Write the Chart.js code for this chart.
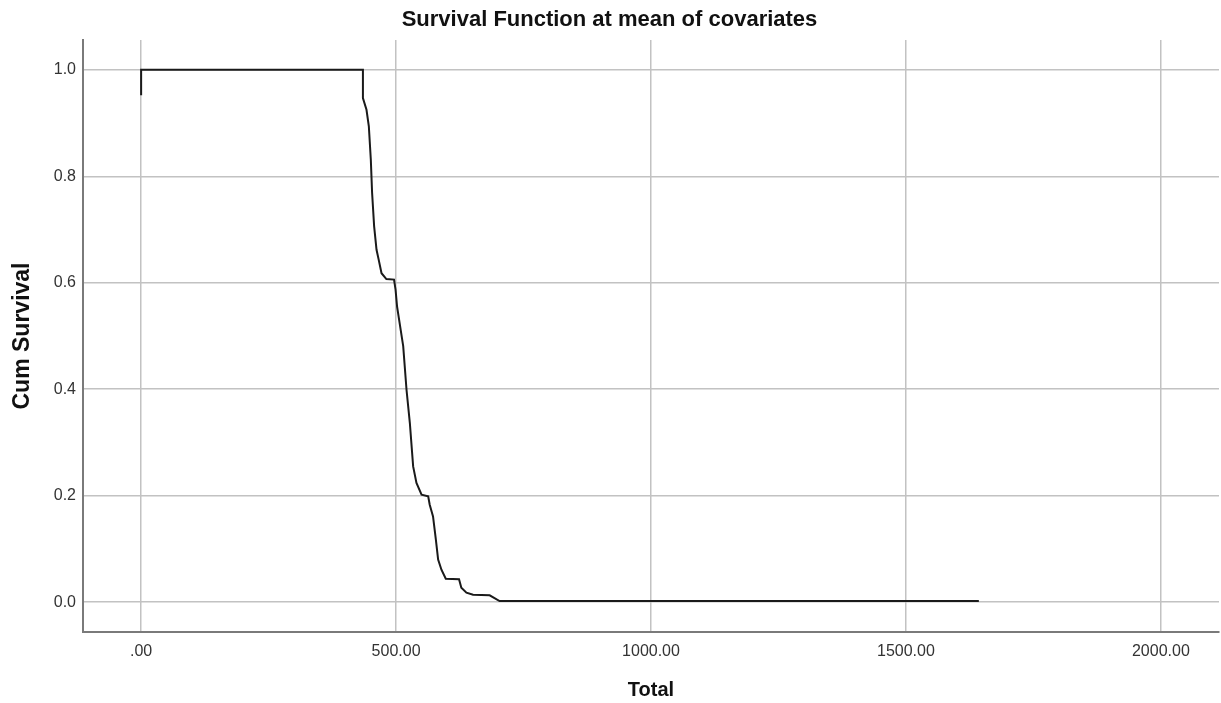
<!DOCTYPE html>
<html>
<head>
<meta charset="utf-8">
<script src="https://cdn.jsdelivr.net/npm/chart.js@4"></script>
<style>
  html, body { margin: 0; padding: 0; background: #ffffff; }
  #wrap { width: 1221px; height: 703px; }
</style>
</head>
<body>
<div id="wrap"><canvas id="c" width="1221" height="703"></canvas></div>
<script>
// ---- data ----
const chartTitle = 'Survival Function at mean of covariates';
const xAxisTitle = 'Total';
const yAxisTitle = 'Cum Survival';

const timeValues = [0, 0, 435, 435, 442, 446.6, 450.5, 453, 457, 461.7, 466, 471.5, 481, 496, 499, 502,
  514, 520.5, 527, 533.5, 540, 550, 563, 566, 572.5, 578, 582.5, 589, 597.5, 623.5, 628, 638, 651,
  683.6, 703, 1643];
const survivalValues = [0.952, 1.0, 1.0, 0.947, 0.925, 0.894, 0.831, 0.769, 0.706, 0.662, 0.643, 0.618, 0.607, 0.606, 0.587, 0.555,
  0.481, 0.399, 0.337, 0.255, 0.224, 0.202, 0.199, 0.183, 0.161, 0.118, 0.080, 0.061, 0.044, 0.043, 0.027, 0.018, 0.014,
  0.013, 0.002, 0.002];

const xTickValues = [0, 500, 1000, 1500, 2000];
const xTickLabels = ['.00', '500.00', '1000.00', '1500.00', '2000.00'];
const yTickValues = [0, 0.2, 0.4, 0.6, 0.8, 1.0];
const yTickLabels = ['0.0', '0.2', '0.4', '0.6', '0.8', '1.0'];

// ---- chart ----
const FONT = "'Liberation Sans', Arial, sans-serif";
const points = timeValues.map((t, i) => ({ x: t, y: survivalValues[i] }));

new Chart(document.getElementById('c'), {
  type: 'scatter',
  data: {
    datasets: [{
      data: points,
      showLine: true,
      borderColor: '#1a1a1a',
      borderWidth: 2,
      pointRadius: 0,
      pointHoverRadius: 0,
      fill: false,
      tension: 0
    }]
  },
  options: {
    responsive: false,
    devicePixelRatio: 1,
    animation: false,
    layout: { padding: { left: 0, right: 2, top: 0, bottom: 0 } },
    plugins: {
      legend: { display: false },
      tooltip: { enabled: false },
      title: {
        display: true,
        text: chartTitle,
        color: '#111',
        font: { family: FONT, size: 22, weight: 'bold' },
        padding: { top: 7, bottom: 6.6 }
      }
    },
    scales: {
      x: {
        type: 'linear',
        min: -114,
        max: 2114,
        afterBuildTicks: s => { s.ticks = xTickValues.map(v => ({ value: v })); },
        afterFit: s => { s.height = 71; },
        ticks: {
          color: '#333',
          font: { family: FONT, size: 16 },
          padding: 10,
          maxRotation: 0,
          autoSkip: false,
          callback: (v) => { const i = xTickValues.indexOf(v); return i >= 0 ? xTickLabels[i] : ''; }
        },
        grid: { color: '#c2c2c2', lineWidth: 1.5, drawTicks: false },
        border: { display: true, color: '#7a7a7a', width: 2 },
        title: {
          display: true,
          text: xAxisTitle,
          color: '#111',
          font: { family: FONT, size: 20, weight: 'bold' },
          padding: { top: 0, bottom: 1 }
        }
      },
      y: {
        type: 'linear',
        min: -0.056,
        max: 1.056,
        afterBuildTicks: s => { s.ticks = yTickValues.map(v => ({ value: v })); },
        afterFit: s => { s.width = 83; },
        ticks: {
          color: '#333',
          font: { family: FONT, size: 16 },
          padding: 7,
          autoSkip: false,
          callback: (v) => { const i = yTickValues.findIndex(t => Math.abs(t - v) < 1e-9); return i >= 0 ? yTickLabels[i] : ''; }
        },
        grid: { color: '#c2c2c2', lineWidth: 1.5, drawTicks: false },
        border: { display: true, color: '#7a7a7a', width: 2 },
        title: {
          display: true,
          text: yAxisTitle,
          color: '#111',
          font: { family: FONT, size: 23, weight: 'bold' },
          padding: { top: 9, bottom: 0 }
        }
      }
    }
  }
});
</script>
</body>
</html>
